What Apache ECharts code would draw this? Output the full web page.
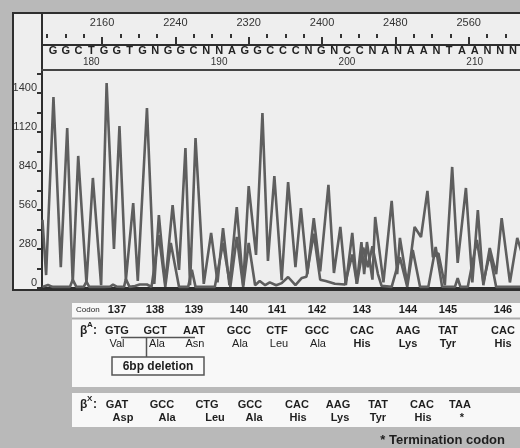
<!DOCTYPE html>
<html>
<head>
<meta charset="utf-8">
<script src="https://cdn.jsdelivr.net/npm/echarts@6/dist/echarts.min.js"></script>
<style>
  html, body { margin: 0; padding: 0; background: #b9b9b9; }
  #chart { width: 520px; height: 448px; }
</style>
</head>
<body>
<div id="chart"></div>
<script>
// scan axis (top ruler)
const scanMajorTicks = [2160, 2240, 2320, 2400, 2480, 2560];
const scanMinorTicks = [2100, 2120, 2140, 2180, 2200, 2220, 2260, 2280, 2300, 2340, 2360, 2380,
  2420, 2440, 2460, 2500, 2520, 2540, 2580, 2600];

// base calls and their sequence positions
const bases = 'GGCTGGTGNGGCNNAGGCCCNGNCCNANAANTAANNN'.split('');
const basePositionLabels = { 3: '180', 13: '190', 23: '200', 33: '210' };

// trace A (the large peaks)
const traceAScan = [2095, 2099, 2107, 2115, 2122, 2128, 2134, 2143, 2150, 2159, 2165, 2173, 2179, 2186, 2194,
  2199, 2209, 2217, 2222, 2229, 2237, 2244, 2251, 2256, 2262, 2271, 2279, 2286, 2292, 2299, 2307, 2314, 2320,
  2328, 2335, 2341, 2348, 2356, 2363, 2371, 2377, 2384, 2391, 2398, 2407, 2413, 2420, 2426, 2433, 2438, 2443,
  2446, 2449, 2455, 2458, 2467, 2476, 2482, 2485, 2493, 2501, 2508, 2515, 2521, 2527, 2534, 2542, 2548, 2557,
  2564, 2570, 2576, 2583, 2590, 2596, 2605, 2613, 2618];
const traceASignal = [490, 93, 1371, 150, 1149, 35, 948, 35, 790, 20, 1471, 280, 1163, 57, 610,
  50, 1292, 30, 524, 30, 595, 130, 1005, 20, 1077, 30, 395, 40, 430, 20, 581, 20, 732,
  237, 1256, 194, 804, 57, 761, 150, 574, 100, 502, 120, 740, 108, 438, 20, 395, 30, 330,
  100, 330, 60, 510, 40, 625, 100, 360, 30, 438, 366, 697, 222, 250, 20, 869, 180, 718,
  40, 560, 20, 287, 100, 502, 40, 359, 250];

// trace B (low at first, then mixed in)
const traceBScan = [2095, 2097, 2101, 2106, 2125, 2128, 2132, 2140, 2143, 2146, 2157, 2159, 2162, 2169, 2172,
  2176, 2184, 2186, 2190, 2196, 2201, 2209, 2214, 2222, 2229, 2235, 2244, 2254, 2258, 2262, 2283, 2292, 2300,
  2307, 2314, 2320, 2327, 2332, 2338, 2343, 2350, 2356, 2363, 2371, 2378, 2383, 2391, 2398, 2404, 2414, 2425,
  2433, 2438, 2445, 2450, 2455, 2461, 2465, 2476, 2485, 2493, 2499, 2507, 2516, 2524, 2531, 2545, 2548, 2551,
  2559, 2569, 2576, 2583, 2590, 2618];
const traceBSignal = [8, 8, 22, 8, 8, 60, 8, 8, 45, 8, 8, 15, 8, 10, 25,
  10, 8, 65, 8, 15, 25, 25, 8, 380, 8, 323, 8, 8, 130, 8, 8, 323, 8,
  366, 8, 323, 20, 50, 20, 40, 20, 35, 79, 20, 72, 80, 390, 60, 50, 30, 25,
  240, 30, 290, 150, 300, 100, 15, 8, 220, 8, 273, 8, 8, 294, 10, 8, 70, 8,
  8, 345, 40, 245, 8, 8];

// codon table
const codonNumbers = ['137', '138', '139', '140', '141', '142', '143', '144', '145', '146'];
const normalCodons = ['GTG', 'GCT', 'AAT', 'GCC', 'CTF', 'GCC', 'CAC', 'AAG', 'TAT', 'CAC'];
const normalAmino = ['Val', 'Ala', 'Asn', 'Ala', 'Leu', 'Ala', 'His', 'Lys', 'Tyr', 'His'];
const mutantCodons = ['GAT', 'GCC', 'CTG', 'GCC', 'CAC', 'AAG', 'TAT', 'CAC', 'TAA'];
const mutantAmino = ['Asp', 'Ala', 'Leu', 'Ala', 'His', 'Lys', 'Tyr', 'His', '*'];

// layout for the table columns (pixels)
const normalColX = [117, 155, 194, 239, 277, 317, 362, 408, 448, 503];
const normalAminoX = [117, 157, 195, 240, 279, 318, 362, 408, 448, 503];
const mutantColX = [117, 162, 207, 250, 297, 338, 378, 422, 460];
const mutantAminoX = [123, 167, 215, 254, 298, 340, 378, 423, 462];

const sans = '"Liberation Sans", Arial, sans-serif';
const lineColor = '#5e5e5e';
const frameColor = '#2e2e2e';
const scanMin = 2094.5;
const scanMax = 2616;

const chart = echarts.init(document.getElementById('chart'));

const txt = (x, y, text, font, align) => ({
  type: 'text', x, y, silent: true,
  style: { text, font, fill: '#1e1e1e', textAlign: align || 'center', textVerticalAlign: 'middle',
    align: align || 'center', verticalAlign: 'middle' }
});

const graphics = [
  { type: 'rect', z: -10, shape: { x: 13, y: 13, width: 530, height: 277 },
    style: { fill: '#eeeeee', stroke: frameColor, lineWidth: 2 } },
  // codon table box
  { type: 'rect', shape: { x: 72, y: 303, width: 460, height: 84 }, style: { fill: '#f8f8f8' } },
  { type: 'line', shape: { x1: 72, y1: 318.5, x2: 520, y2: 318.5 }, style: { stroke: '#ababab', lineWidth: 2 } },
  { type: 'rect', shape: { x: 72, y: 393, width: 460, height: 34 }, style: { fill: '#f8f8f8' } },
  // deletion bracket
  { type: 'line', shape: { x1: 121, y1: 337.5, x2: 195, y2: 337.5 }, style: { stroke: '#555', lineWidth: 1.5 } },
  { type: 'line', shape: { x1: 146.5, y1: 337.5, x2: 146.5, y2: 357 }, style: { stroke: '#555', lineWidth: 1.5 } },
  { type: 'rect', shape: { x: 112, y: 357, width: 92, height: 18 }, style: { fill: '#fafafa', stroke: '#555', lineWidth: 1.5 } },
  txt(158, 366.5, '6bp deletion', 'bold 12px ' + sans),
  txt(76, 310, 'Codon', '8px ' + sans, 'left'),
  txt(80, 331, 'β', 'bold 12px ' + sans, 'left'),
  txt(87, 325, 'A', 'bold 8px ' + sans, 'left'),
  txt(93, 331, ':', 'bold 12px ' + sans, 'left'),
  txt(80, 405, 'β', 'bold 12px ' + sans, 'left'),
  txt(87, 399, 'X', 'bold 8px ' + sans, 'left'),
  txt(93, 405, ':', 'bold 12px ' + sans, 'left'),
  txt(505, 440, '* Termination codon', 'bold 13px ' + sans, 'right')
];
codonNumbers.forEach((c, i) => graphics.push(txt(normalColX[i], 310, c, 'bold 11px ' + sans)));
normalCodons.forEach((c, i) => graphics.push(txt(normalColX[i], 330.5, c, 'bold 11px ' + sans)));
normalAmino.forEach((a, i) => graphics.push(txt(normalAminoX[i], 344, a, (i < 6 ? '' : 'bold ') + '11px ' + sans)));
mutantCodons.forEach((c, i) => graphics.push(txt(mutantColX[i], 405, c, 'bold 11px ' + sans)));
mutantAmino.forEach((a, i) => graphics.push(txt(mutantAminoX[i], 417.5, a, 'bold 11px ' + sans)));

const toPairs = (xs, ys) => xs.map((x, i) => [x, ys[i]]);

const option = {
  backgroundColor: '#b9b9b9',
  animation: false,
  textStyle: { fontFamily: sans },
  grid: [
    { left: 42, right: 0, top: 13, height: 57 },          // ruler strip
    { left: 46.6, right: -1.4, top: 38, height: 32 },     // base calls
    { left: 42, right: 0, top: 70, height: 218 }          // traces
  ],
  xAxis: [
    {
      type: 'value', gridIndex: 0, position: 'top', offset: -25, min: scanMin, max: scanMax,
      axisLine: { show: true, lineStyle: { color: frameColor, width: 2 } },
      axisTick: { show: true, length: 8, customValues: scanMajorTicks, lineStyle: { color: '#333', width: 2 } },
      axisLabel: { customValues: scanMajorTicks, margin: 10, fontSize: 11, color: '#333', fontFamily: sans,
        formatter: v => String(v) },
      splitLine: { show: false }
    },
    {
      type: 'value', gridIndex: 0, position: 'top', offset: -25, min: scanMin, max: scanMax,
      axisLine: { show: false },
      axisTick: { show: true, length: 4, customValues: scanMinorTicks, lineStyle: { color: '#333', width: 2 } },
      axisLabel: { show: false }, splitLine: { show: false }
    },
    {
      type: 'value', gridIndex: 0, position: 'bottom', min: scanMin, max: scanMax,
      axisLine: { show: true, lineStyle: { color: '#444', width: 2 } },
      axisTick: { show: false }, axisLabel: { show: false }, splitLine: { show: false }
    },
    {
      type: 'category', gridIndex: 1, position: 'top', data: bases, boundaryGap: true,
      axisLine: { show: false }, axisTick: { show: false },
      axisLabel: {
        inside: true, margin: 6, interval: 0,
        formatter: (v, i) => basePositionLabels[i] ? '{b|' + v + '}\n{n|' + basePositionLabels[i] + '}' : '{b|' + v + '}',
        rich: {
          b: { fontSize: 11, fontWeight: 'bold', color: '#222', lineHeight: 13, fontFamily: sans },
          n: { fontSize: 10, color: '#333', lineHeight: 11, fontFamily: sans }
        }
      }
    },
    {
      type: 'value', gridIndex: 2, min: scanMin, max: scanMax,
      axisLine: { show: true, lineStyle: { color: frameColor, width: 3 } },
      axisTick: { show: false }, axisLabel: { show: false }, splitLine: { show: false }
    }
  ],
  yAxis: [
    {
      type: 'value', gridIndex: 0, min: 0, max: 1,
      axisLine: { show: true, lineStyle: { color: frameColor, width: 2 } },
      axisTick: { show: false }, axisLabel: { show: false }, splitLine: { show: false }
    },
    { type: 'value', gridIndex: 1, show: false },
    {
      type: 'value', gridIndex: 2, min: 0, max: 1565, interval: 140,
      axisLine: { show: true, lineStyle: { color: frameColor, width: 2 } },
      axisTick: { show: true, length: 5, lineStyle: { color: '#333', width: 2 } },
      axisLabel: {
        margin: 5, fontSize: 11, color: '#333', fontFamily: sans, verticalAlign: 'bottom', lineHeight: 11,
        showMaxLabel: false,
        formatter: v => (v % 280 === 0 ? String(v) : '')
      },
      splitLine: { show: false }
    }
  ],
  series: [
    {
      name: 'trace A', type: 'line', xAxisIndex: 4, yAxisIndex: 2,
      data: toPairs(traceAScan, traceASignal), showSymbol: false, symbol: 'none',
      lineStyle: { color: lineColor, width: 2.6 }, z: 3
    },
    {
      name: 'trace B', type: 'line', xAxisIndex: 4, yAxisIndex: 2,
      data: toPairs(traceBScan, traceBSignal), showSymbol: false, symbol: 'none',
      lineStyle: { color: lineColor, width: 2.6 }, z: 3
    }
  ],
  graphic: graphics
};

chart.setOption(option);
</script>
</body>
</html>
